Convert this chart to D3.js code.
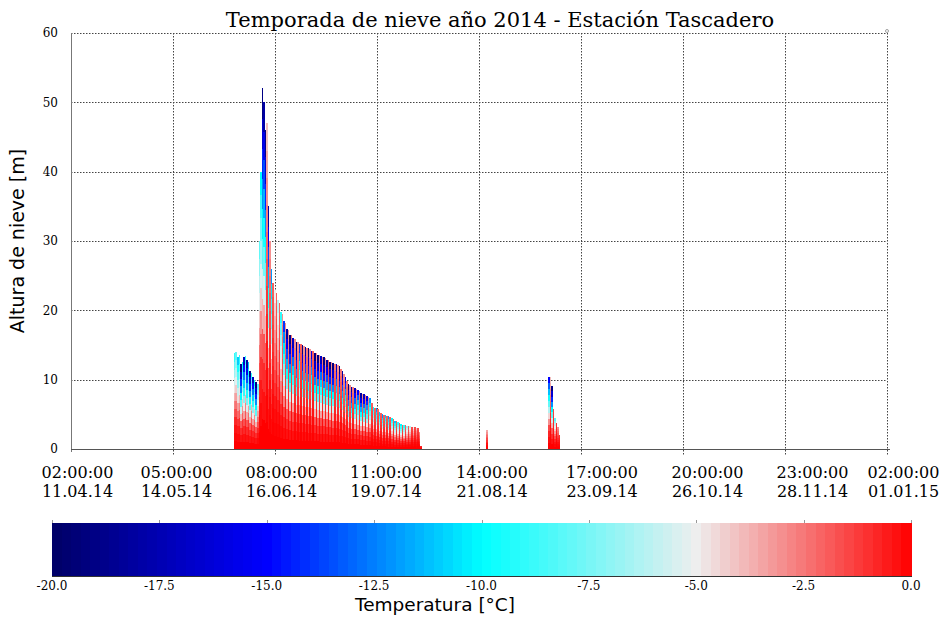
<!DOCTYPE html>
<html><head><meta charset="utf-8">
<script src="https://cdn.jsdelivr.net/npm/d3@7"></script>
<style>body{margin:0;background:#fff} svg{display:block}</style>
</head><body><svg id="c" width="944" height="618"></svg>
<script>
// ---------- data ----------
const days = [
 "2014-06-03","2014-06-04","2014-06-05","2014-06-06","2014-06-07","2014-06-08","2014-06-09","2014-06-10",
 "2014-06-11","2014-06-12","2014-06-13","2014-06-14","2014-06-15","2014-06-16","2014-06-17","2014-06-18","2014-06-19","2014-06-20",
 "2014-06-21","2014-06-22","2014-06-23","2014-06-24","2014-06-25","2014-06-26","2014-06-27","2014-06-28","2014-06-29","2014-06-30",
 "2014-07-01","2014-07-02","2014-07-03","2014-07-04","2014-07-05","2014-07-06","2014-07-07","2014-07-08","2014-07-09","2014-07-10",
 "2014-07-11","2014-07-12","2014-07-13","2014-07-14","2014-07-15","2014-07-16","2014-07-17","2014-07-18","2014-07-19","2014-07-20",
 "2014-07-21","2014-07-22","2014-07-23","2014-07-24","2014-07-25","2014-07-26","2014-07-27","2014-07-28","2014-07-29","2014-07-30",
 "2014-07-31","2014-08-01","2014-08-02",
 "2014-08-24",
 "2014-09-13","2014-09-14","2014-09-15","2014-09-16"
];
// snow depth [m] of the night (00-12h) and day (12-24h) profiles
const depthNight = [
 13.8,13.3,12.2,13.3,12.8,11.3,10.4,9.6,
 30,52,46,35,26,23,21.5,19.8,18.4,17.3,
 16.5,16.0,15.5,15.2,15.0,14.7,14.5,14.2,13.9,13.6,
 13.4,13.2,12.9,12.6,12.4,12.2,11.9,11.2,10.4,9.4,
 9.0,8.8,8.5,8.1,7.9,7.6,7.3,6.0,5.9,5.3,
 5.0,4.9,4.7,4.5,4.1,3.9,3.6,3.4,3.3,3.3,
 3.2,3.1,2.5,
 2.7,
 10.4,9.1,4.5,3.2
];
const depthDay = [
 14.0,13.5,12.5,13.4,12.6,11.0,10.0,9.4,
 40,50,47,30,24,22.5,21,19.5,18.2,17.1,
 16.4,15.9,15.4,15.1,14.9,14.6,14.4,14.1,13.8,13.5,
 13.3,13.1,12.8,12.5,12.3,12.1,11.6,10.8,9.8,9.2,
 8.9,8.7,8.4,8.0,7.8,7.5,6.6,5.9,5.7,5.2,
 4.9,4.8,4.6,4.3,4.0,3.8,3.5,3.4,3.3,3.2,
 3.2,3.0,0.5,
 0,
 10.4,5.8,3.7,2.0
];
// surface temperature [°C] of each profile
const tempNight = [
 -9,-11,-19,-17,-18,-19,-17,-19,
 -8,-19,-19,-18,-12,-5,-6,-9,-14,-18,
 -19,-17,-19,-14,-19,-18,-19,-16,-19,-19,
 -17,-19,-18,-19,-19,-17,-19,-18,-16,-19,
 -18,-17,-15,-18,-17,-16,-12,-10,-12,-11,
 -12,-11,-12,-10,-11,-9,-10,-9,-7,-6,
 -5,-4,-3,
 -3.5,
 -15,-19,-8,-3
];
const tempDay = [
 -8,-9,-10,-9,-11,-9,-10,-8,
 -10,-18,-4,-3,-2,-2,-2,-3,-3,-3,
 -2.5,-3,-3,-2,-3,-2.5,-3,-2,-3,-3,
 -2.5,-3,-2,-3,-2.5,-3,-2.5,-3,-2.5,-3,
 -2.5,-3,-2.5,-3,-2.5,-3,-2,-2,-2,-2,
 -2,-2,-2,-2,-2,-2,-2,-2,-2,-1.5,
 -1.5,-1.5,-1,
 -3.5,
 -4,-1.5,-1,-1
];
// fraction of the surface temperature reached in each of 12 layers (bottom -> top)
const profileWeight = [0,0.02,0.05,0.1,0.2,0.3,0.42,0.53,0.64,0.75,0.87,1];

const yTicks = [0,10,20,30,40,50,60];
const xTickTimes = ["02:00:00","05:00:00","08:00:00","11:00:00","14:00:00","17:00:00","20:00:00","23:00:00","02:00:00"];
const xTickDates = ["11.04.14","14.05.14","16.06.14","19.07.14","21.08.14","23.09.14","26.10.14","28.11.14","01.01.15"];
const cbTicks = [-20,-17.5,-15,-12.5,-10,-7.5,-5,-2.5,0];
const tempStops = [-20,-15,-10,-5,0];
const tempColors = ["#000066","#0000ff","#00ffff","#eeeeee","#ff0000"];

// ---------- layout ----------
const W = 944, H = 618;
const L = 71, R = 887, T = 33, B = 449;
const svg = d3.select("#c");
const serif = "'DejaVu Serif', serif";
const sans = "'DejaVu Sans', sans-serif";
// horizontal shift of each x tick label relative to its tick (as laid out in the original)
const labelShift = [6.5, 3.5, 6.5, 9, 13, 21, 24.5, 27.5, 16.5];

const start = new Date(Date.UTC(2014,3,11,2));
const end = new Date(Date.UTC(2015,0,1,2));
const x = d3.scaleUtc().domain([start,end]).range([L,R]);
const y = d3.scaleLinear().domain([0,60]).range([B,T]);
const color = d3.scaleLinear().domain(tempStops).range(tempColors).clamp(true);
const xTicks = d3.range(9).map(i => new Date(+start + i*(end-start)/8));

// grid
const grid = svg.append("g").attr("stroke","#444").attr("stroke-width",1).attr("stroke-dasharray","1.5,1.5");
grid.selectAll(".hg").data(yTicks.filter(d=>d>0)).join("line")
  .attr("x1",L).attr("x2",R).attr("y1",d=>Math.round(y(d))+0.5).attr("y2",d=>Math.round(y(d))+0.5);
grid.selectAll(".vg").data(xTicks.slice(1)).join("line")
  .attr("y1",T).attr("y2",B+6).attr("x1",d=>Math.round(x(d))+0.5).attr("x2",d=>Math.round(x(d))+0.5);

// bars
const parse = d3.utcParse("%Y-%m-%d");
const bars = [];
days.forEach((d,i) => {
  const t = parse(d);
  const mid = d3.utcHour.offset(t,12), nxt = d3.utcDay.offset(t,1);
  bars.push({t0:t,t1:mid,depth:depthNight[i],temp:tempNight[i]});
  bars.push({t0:mid,t1:nxt,depth:depthDay[i],temp:tempDay[i]});
});
const segs = [];
bars.forEach(b => {
  if (!b.depth) return;
  const n = profileWeight.length;
  profileWeight.forEach((w,k) => {
    segs.push({t0:b.t0,t1:b.t1,h0:b.depth*k/n,h1:b.depth*(k+1)/n,temp:b.temp*w});
  });
});
svg.append("g").attr("shape-rendering","crispEdges")
  .selectAll("rect").data(segs).join("rect")
  .attr("x",d=>x(d.t0)).attr("width",d=>x(d.t1)-x(d.t0))
  .attr("y",d=>y(d.h1)).attr("height",d=>y(d.h0)-y(d.h1)+0.3)
  .attr("fill",d=>color(d.temp));

// axes lines
svg.append("line").attr("x1",L+0.5).attr("x2",L+0.5).attr("y1",T).attr("y2",B+3).attr("stroke","#777");
svg.append("line").attr("x1",L).attr("x2",R+3).attr("y1",B+0.5).attr("y2",B+0.5).attr("stroke","#555");
svg.append("circle").attr("cx",R).attr("cy",T-2).attr("r",1.5).attr("fill","none").attr("stroke","#888").attr("stroke-width",0.8);

// y tick labels
svg.append("g").selectAll("text").data(yTicks).join("text")
  .attr("x",L-13).attr("y",d=>y(d)).attr("dy","0.35em").attr("text-anchor","end")
  .attr("font-family",serif).attr("font-size",12).text(d=>d);

// x tick labels
const xl = svg.append("g").attr("font-family",serif).attr("font-size",16).attr("text-anchor","middle");
xTicks.forEach((t,i) => {
  xl.append("text").attr("x",x(t)+labelShift[i]).attr("y",478).text(xTickTimes[i]);
  xl.append("text").attr("x",x(t)+labelShift[i]).attr("y",497).text(xTickDates[i]);
});

// title & y label
svg.append("text").attr("x",500).attr("y",27).attr("text-anchor","middle")
  .attr("font-family",serif).attr("font-size",21).text("Temporada de nieve año 2014 - Estación Tascadero");
svg.append("text").attr("transform","translate(24,241) rotate(-90)").attr("text-anchor","middle")
  .attr("font-family",sans).attr("font-size",19).text("Altura de nieve [m]");

// colorbar
const cbL = 52, cbR = 911, cbT = 523, cbB = 576;
const cx = d3.scaleLinear().domain([-20,0]).range([cbL,cbR]);
const nSteps = 90;
const steps = d3.range(nSteps).map(i => -20 + 20*i/nSteps);
svg.append("g").attr("shape-rendering","crispEdges").selectAll("rect").data(steps).join("rect")
  .attr("x",d=>cx(d)).attr("width",(cbR-cbL)/nSteps+0.6).attr("y",cbT).attr("height",cbB-cbT)
  .attr("fill",d=>color(d + 10/nSteps));
svg.append("line").attr("x1",cbL).attr("x2",cbR+1).attr("y1",cbB+0.5).attr("y2",cbB+0.5).attr("stroke","#333");
svg.append("g").selectAll("line").data(cbTicks).join("line")
  .attr("x1",d=>Math.round(cx(d))+0.5).attr("x2",d=>Math.round(cx(d))+0.5)
  .attr("y1",cbT-3).attr("y2",cbT).attr("stroke","#999");
svg.append("g").selectAll("text").data(cbTicks).join("text")
  .attr("x",d=>cx(d)).attr("y",590).attr("text-anchor","middle")
  .attr("font-family",serif).attr("font-size",12).text(d=>d.toFixed(1));
svg.append("text").attr("x",435).attr("y",611).attr("text-anchor","middle")
  .attr("font-family",sans).attr("font-size",18.5).text("Temperatura [°C]");
</script></body></html>
